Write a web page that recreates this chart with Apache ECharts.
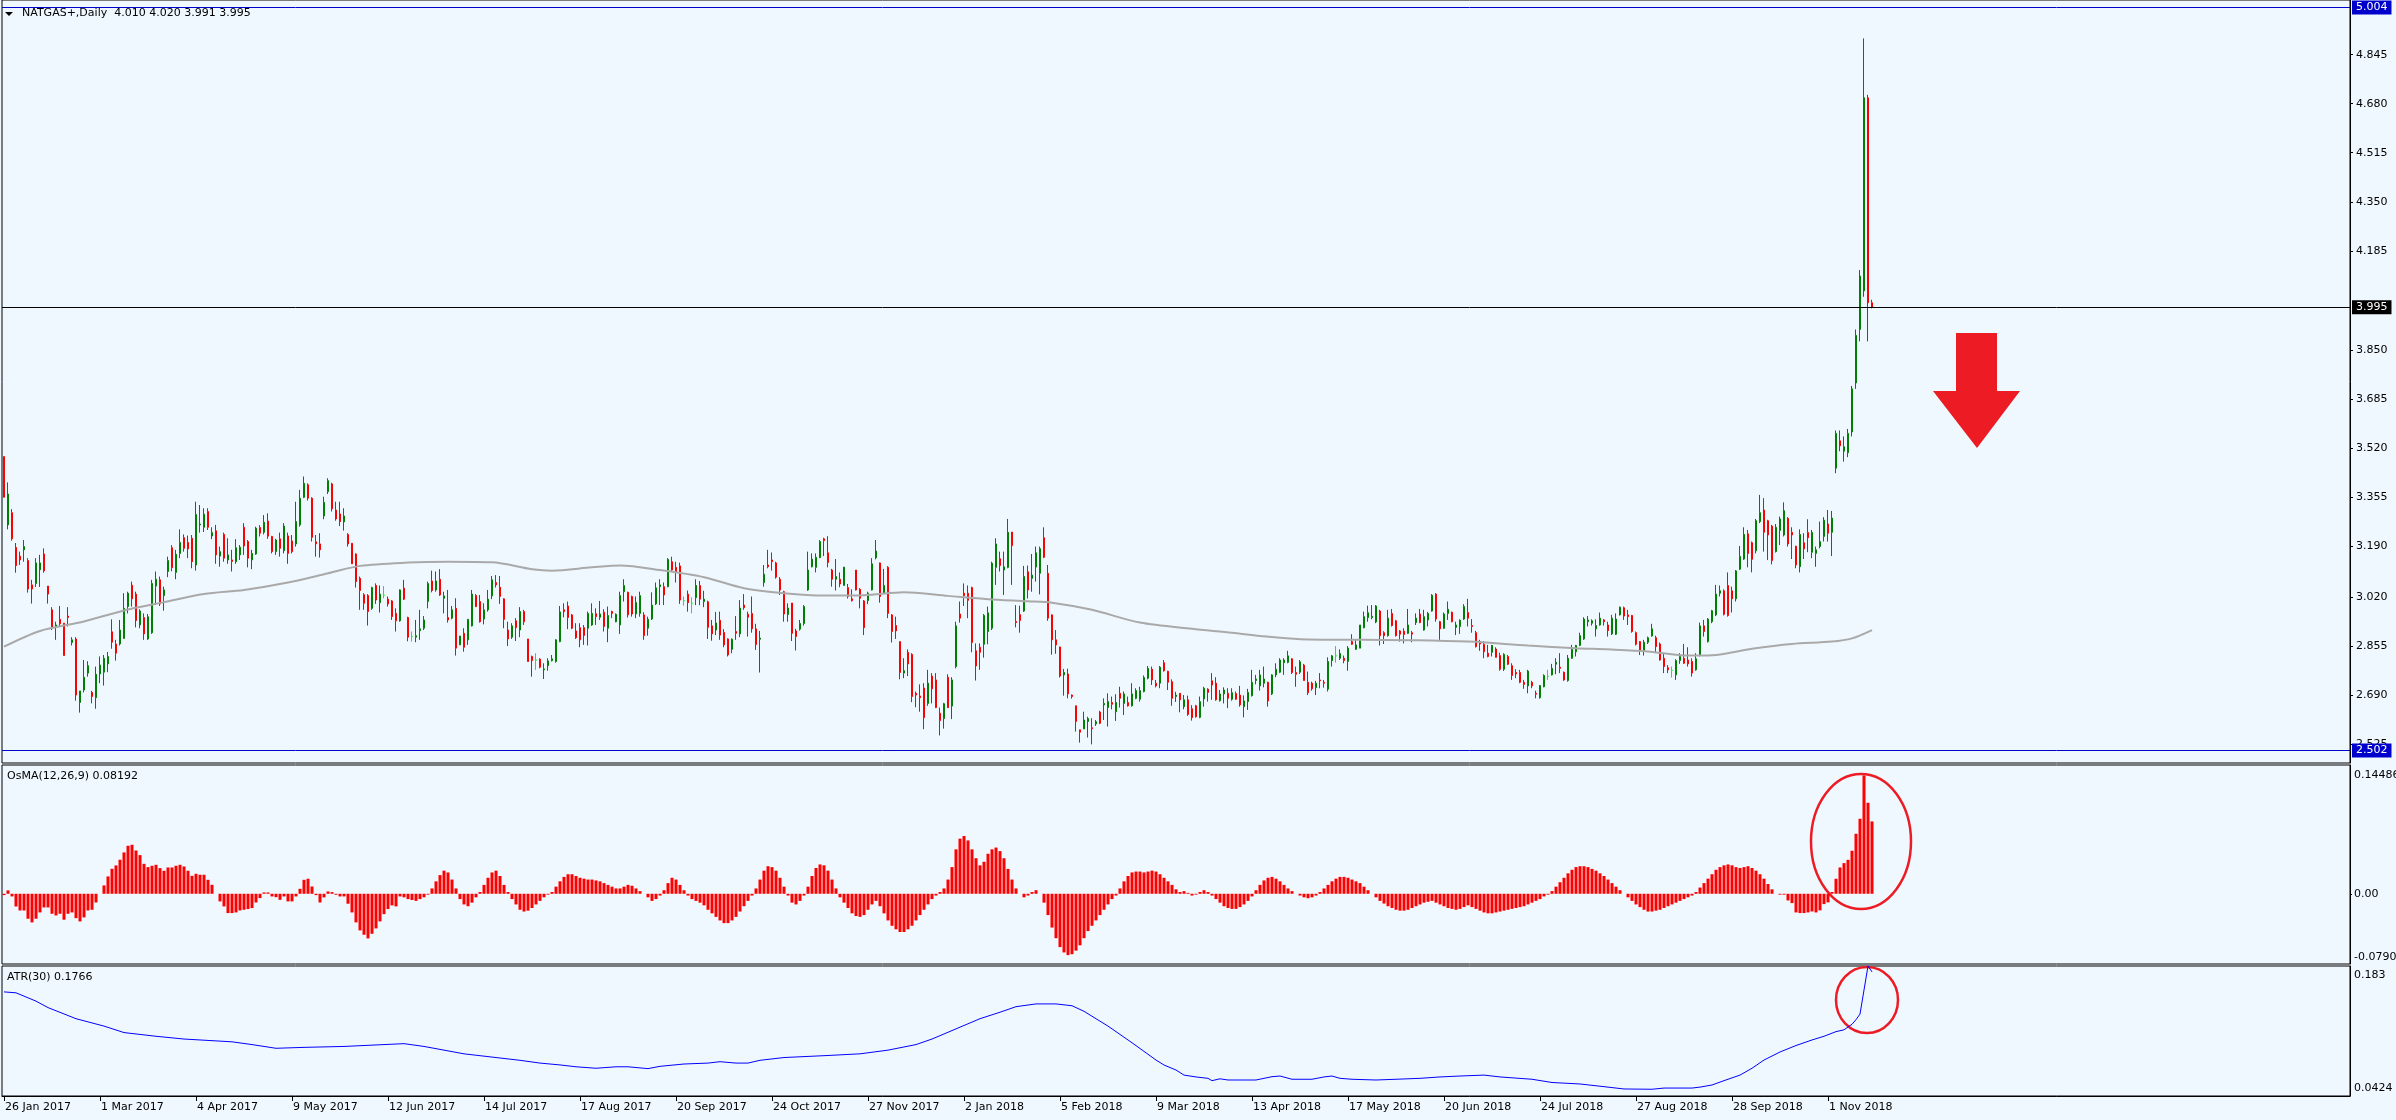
<!DOCTYPE html>
<html><head><meta charset="utf-8">
<script src="https://cdn.jsdelivr.net/npm/echarts@6/dist/echarts.min.js"></script>
<style>html,body{margin:0;padding:0;background:#F0F8FF;overflow:hidden}#c{width:2396px;height:1120px}</style>
</head><body><div id="c"></div>
<script>
const tickLabels = ['26 Jan 2017','1 Mar 2017','4 Apr 2017','9 May 2017','12 Jun 2017','14 Jul 2017','17 Aug 2017','20 Sep 2017','24 Oct 2017','27 Nov 2017','2 Jan 2018','5 Feb 2018','9 Mar 2018','13 Apr 2018','17 May 2018','20 Jun 2018','24 Jul 2018','27 Aug 2018','28 Sep 2018','1 Nov 2018'];
const priceTicks = [2.525,2.690,2.855,3.020,3.190,3.355,3.520,3.685,3.850,4.185,4.350,4.515,4.680,4.845];
const levelTop = 5.004, levelBottom = 2.502, lastPrice = 3.995;
const osmaRange = [-0.0790, 0.14486];
const atrRange = [0.0424, 0.183];

const opens = [
3.492,3.262,3.303,3.186,3.157,3.178,3.142,3.060,3.065,3.111,
3.164,3.056,2.976,2.917,2.944,2.931,2.955,2.866,2.878,2.664,
2.706,2.763,2.698,2.680,2.760,2.766,2.794,2.902,2.861,2.861,
2.880,2.987,3.059,3.029,2.925,2.950,2.878,2.899,3.056,3.077,
3.024,3.105,3.185,3.102,3.166,3.219,3.203,3.217,3.127,3.262,
3.254,3.307,3.225,3.242,3.157,3.230,3.144,3.144,3.138,3.161,
3.254,3.206,3.144,3.164,3.253,3.237,3.275,3.223,3.172,3.215,
3.175,3.225,3.208,3.198,3.262,3.355,3.397,3.352,3.205,3.198,
3.292,3.374,3.400,3.312,3.299,3.272,3.230,3.200,3.164,3.082,
3.027,3.024,2.981,3.058,3.000,3.025,3.012,3.006,2.964,2.939,
3.049,2.950,2.886,2.884,2.906,2.914,3.004,3.073,3.043,3.079,
3.015,2.950,2.948,2.981,2.858,2.897,2.875,2.922,3.024,3.004,
2.945,2.976,3.023,3.068,3.052,3.013,2.908,2.884,2.939,2.908,
2.970,2.878,2.819,2.807,2.810,2.774,2.788,2.805,2.802,2.869,
2.976,2.989,2.959,2.905,2.916,2.916,2.914,2.925,2.963,2.951,
2.968,2.914,2.970,2.936,2.925,3.037,3.035,3.021,2.962,2.964,
2.959,2.914,2.945,2.996,3.054,3.054,3.054,3.138,3.119,3.124,
3.007,3.029,2.998,3.017,3.058,3.004,3.003,2.922,2.908,2.941,
2.900,2.878,2.843,2.903,2.895,2.992,2.961,2.964,2.912,2.877,
3.068,3.127,3.144,3.134,3.079,3.037,2.960,2.999,2.905,2.911,
2.930,3.043,3.121,3.119,3.152,3.215,3.168,3.110,3.079,3.079,
3.058,3.051,3.013,3.110,3.045,3.006,3.007,3.043,3.151,3.134,
3.032,3.119,2.959,2.923,2.869,2.763,2.833,2.826,2.695,2.686,
2.713,2.661,2.753,2.740,2.628,2.610,2.749,2.652,2.785,2.962,
3.032,3.032,3.051,2.838,2.850,2.860,2.903,2.914,3.119,3.148,
3.110,3.119,3.238,2.937,2.960,2.972,3.104,3.082,3.120,3.099,
3.219,3.099,2.959,2.875,2.851,2.757,2.760,2.689,2.653,2.572,
2.575,2.600,2.579,2.592,2.632,2.656,2.647,2.664,2.633,2.695,
2.661,2.664,2.653,2.678,2.675,2.701,2.746,2.776,2.729,2.729,
2.798,2.769,2.734,2.684,2.695,2.650,2.673,2.643,2.653,2.614,
2.676,2.709,2.737,2.729,2.670,2.693,2.695,2.675,2.694,2.689,
2.650,2.667,2.687,2.738,2.720,2.729,2.732,2.693,2.757,2.766,
2.798,2.799,2.811,2.765,2.766,2.790,2.732,2.729,2.714,2.740,
2.732,2.709,2.805,2.821,2.813,2.813,2.802,2.869,2.843,2.847,
2.916,2.950,2.950,2.935,2.972,2.899,2.889,2.964,2.939,2.905,
2.904,2.897,2.899,2.933,2.962,2.908,2.942,2.972,3.029,2.936,
2.914,2.964,2.968,2.917,2.920,2.945,2.967,2.923,2.899,2.869,
2.860,2.830,2.833,2.844,2.822,2.776,2.819,2.788,2.765,2.765,
2.732,2.720,2.732,2.695,2.680,2.717,2.752,2.757,2.793,2.783,
2.766,2.738,2.813,2.835,2.856,2.878,2.936,2.931,2.912,2.925,
2.942,2.925,2.895,2.894,2.959,2.983,2.959,2.957,2.899,2.869,
2.839,2.867,2.888,2.882,2.861,2.813,2.781,2.772,2.757,2.805,
2.813,2.807,2.802,2.774,2.824,2.922,2.869,2.936,2.959,3.032,
3.040,3.058,3.040,3.013,3.113,3.147,3.232,3.202,3.175,3.273,
3.312,3.276,3.258,3.172,3.243,3.228,3.284,3.237,3.190,3.121,
3.202,3.236,3.170,3.166,3.189,3.223,3.265,3.237,3.453,3.545,
3.510,3.505,3.575,3.740,3.920,4.050,4.700,4.010];
const closes = [
3.355,3.366,3.215,3.125,3.144,3.189,3.046,3.046,3.134,3.134,
3.107,3.029,2.917,2.925,2.929,2.822,2.950,2.875,2.689,2.703,
2.749,2.788,2.684,2.759,2.790,2.813,2.819,2.867,2.830,2.908,
2.981,3.032,3.013,2.940,2.972,2.895,2.953,3.065,3.079,2.996,
3.043,3.142,3.118,3.163,3.203,3.183,3.181,3.138,3.297,3.265,
3.298,3.254,3.236,3.161,3.172,3.150,3.161,3.139,3.185,3.187,
3.191,3.150,3.166,3.251,3.234,3.271,3.224,3.172,3.211,3.183,
3.258,3.166,3.172,3.273,3.352,3.402,3.352,3.220,3.198,3.178,
3.338,3.411,3.316,3.282,3.273,3.292,3.198,3.131,3.071,3.041,
2.998,2.970,3.051,3.009,3.029,3.025,2.996,2.953,2.939,3.043,
3.012,2.884,2.886,2.889,2.912,2.942,3.065,3.041,3.073,3.026,
3.023,2.942,2.976,2.847,2.888,2.850,2.944,3.029,2.987,2.936,
2.976,3.012,3.077,3.060,3.021,2.944,2.878,2.922,2.916,2.970,
2.936,2.802,2.805,2.807,2.783,2.777,2.804,2.811,2.875,2.969,
2.970,2.950,2.914,2.882,2.875,2.890,2.964,2.964,2.953,2.962,
2.920,2.957,2.964,2.961,3.024,3.058,2.959,2.962,3.001,3.024,
2.889,2.944,2.992,3.050,3.060,3.026,3.146,3.110,3.102,3.009,
3.007,3.000,2.998,3.058,3.012,3.012,2.917,2.895,2.932,2.891,
2.858,2.824,2.877,2.897,2.982,2.983,2.951,2.912,2.859,2.881,
3.096,3.121,3.138,3.086,3.043,2.962,2.982,2.897,2.886,2.930,
2.987,3.110,3.147,3.153,3.206,3.209,3.135,3.079,3.088,3.063,
3.120,3.021,3.007,3.043,3.015,2.916,3.032,3.131,3.174,3.021,
3.058,2.964,2.903,2.905,2.765,2.771,2.794,2.684,2.689,2.680,
2.613,2.729,2.710,2.647,2.603,2.660,2.647,2.740,2.922,2.948,
3.024,3.008,2.866,2.787,2.833,2.957,2.966,3.133,3.198,3.125,
3.121,3.237,3.192,2.933,2.940,3.088,3.043,3.093,3.168,3.182,
3.153,2.948,2.875,2.858,2.753,2.765,2.693,2.684,2.600,2.564,
2.605,2.610,2.576,2.599,2.594,2.661,2.667,2.658,2.664,2.678,
2.693,2.653,2.693,2.704,2.704,2.748,2.779,2.740,2.720,2.783,
2.771,2.732,2.678,2.689,2.673,2.673,2.624,2.613,2.616,2.667,
2.712,2.698,2.723,2.673,2.693,2.706,2.678,2.697,2.675,2.656,
2.669,2.698,2.732,2.743,2.757,2.743,2.669,2.757,2.776,2.807,
2.807,2.821,2.765,2.759,2.801,2.738,2.697,2.710,2.729,2.737,
2.729,2.802,2.821,2.821,2.829,2.805,2.847,2.860,2.858,2.925,
2.953,2.966,2.954,2.989,2.889,2.889,2.948,2.923,2.889,2.894,
2.893,2.925,2.894,2.948,2.933,2.953,2.964,3.025,2.945,2.912,
2.962,2.978,2.936,2.925,2.941,2.987,2.948,2.920,2.852,2.861,
2.835,2.819,2.856,2.816,2.776,2.826,2.793,2.755,2.760,2.732,
2.725,2.770,2.720,2.692,2.721,2.755,2.752,2.779,2.799,2.779,
2.740,2.813,2.843,2.856,2.889,2.945,2.942,2.939,2.923,2.948,
2.936,2.906,2.948,2.945,2.985,2.955,2.953,2.903,2.860,2.839,
2.867,2.882,2.912,2.852,2.807,2.785,2.774,2.772,2.805,2.819,
2.796,2.794,2.763,2.811,2.922,2.903,2.945,2.973,3.029,3.040,
2.961,2.957,3.013,3.107,3.156,3.230,3.166,3.146,3.276,3.303,
3.237,3.228,3.142,3.254,3.282,3.310,3.198,3.228,3.127,3.230,
3.181,3.219,3.237,3.178,3.206,3.278,3.234,3.285,3.570,3.528,
3.525,3.570,3.720,3.900,4.100,4.700,4.010,3.995];
const lows = [
3.355,3.247,3.209,3.101,3.127,3.138,3.034,2.997,3.053,3.053,
3.101,2.997,2.908,2.875,2.920,2.822,2.920,2.856,2.670,2.630,
2.698,2.751,2.661,2.643,2.729,2.721,2.766,2.845,2.805,2.856,
2.878,2.964,2.987,2.917,2.914,2.875,2.875,2.895,2.992,2.989,
2.973,3.086,3.106,3.079,3.150,3.172,3.150,3.116,3.108,3.236,
3.238,3.245,3.214,3.131,3.121,3.138,3.131,3.105,3.131,3.144,
3.161,3.119,3.113,3.161,3.223,3.230,3.215,3.166,3.161,3.155,
3.166,3.131,3.166,3.189,3.256,3.352,3.344,3.206,3.155,3.152,
3.281,3.366,3.307,3.276,3.258,3.243,3.189,3.131,3.051,2.976,
2.976,2.923,2.976,2.996,2.967,3.015,2.987,2.942,2.903,2.936,
3.009,2.870,2.869,2.867,2.875,2.908,2.981,3.035,3.037,3.023,
2.964,2.933,2.944,2.822,2.858,2.835,2.858,2.920,2.985,2.933,
2.927,2.970,3.012,3.051,2.996,2.914,2.854,2.878,2.871,2.884,
2.925,2.802,2.751,2.774,2.779,2.743,2.771,2.802,2.798,2.867,
2.951,2.911,2.911,2.878,2.850,2.858,2.856,2.922,2.925,2.942,
2.903,2.867,2.948,2.934,2.895,3.004,2.950,2.953,2.948,2.953,
2.875,2.889,2.942,2.992,2.992,2.992,3.052,3.107,3.068,2.996,
2.990,2.970,2.964,2.992,2.992,2.985,2.878,2.872,2.891,2.875,
2.850,2.819,2.830,2.875,2.884,2.976,2.886,2.899,2.841,2.765,
3.054,3.116,3.108,3.081,3.026,2.936,2.936,2.871,2.839,2.906,
2.923,3.040,3.119,3.102,3.150,3.157,3.119,3.054,3.041,3.052,
3.058,3.014,3.004,3.041,2.981,2.891,2.995,3.041,3.146,3.000,
3.029,2.948,2.866,2.878,2.742,2.746,2.753,2.665,2.648,2.633,
2.574,2.653,2.661,2.645,2.553,2.576,2.645,2.608,2.779,2.933,
2.989,2.948,2.833,2.738,2.774,2.815,2.860,2.908,3.060,3.105,
3.026,3.116,3.060,2.917,2.899,2.969,3.014,3.037,3.071,3.028,
3.150,2.939,2.825,2.828,2.748,2.687,2.678,2.677,2.566,2.529,
2.575,2.546,2.523,2.585,2.591,2.605,2.583,2.641,2.602,2.647,
2.622,2.650,2.650,2.675,2.667,2.698,2.742,2.723,2.715,2.712,
2.768,2.706,2.653,2.666,2.631,2.641,2.619,2.603,2.613,2.611,
2.650,2.667,2.673,2.670,2.667,2.661,2.645,2.670,2.673,2.650,
2.614,2.639,2.684,2.725,2.704,2.715,2.650,2.689,2.749,2.763,
2.757,2.796,2.760,2.717,2.760,2.738,2.689,2.704,2.689,2.712,
2.714,2.701,2.785,2.798,2.807,2.796,2.771,2.858,2.841,2.847,
2.914,2.936,2.944,2.931,2.856,2.861,2.886,2.920,2.886,2.869,
2.863,2.895,2.867,2.925,2.931,2.906,2.920,2.970,2.936,2.875,
2.912,2.942,2.934,2.891,2.895,2.942,2.920,2.899,2.849,2.838,
2.813,2.816,2.819,2.816,2.771,2.770,2.790,2.740,2.746,2.729,
2.710,2.695,2.712,2.678,2.677,2.715,2.740,2.755,2.759,2.763,
2.737,2.734,2.811,2.819,2.854,2.875,2.920,2.923,2.886,2.923,
2.923,2.886,2.891,2.891,2.957,2.942,2.925,2.899,2.856,2.824,
2.822,2.861,2.886,2.833,2.805,2.763,2.763,2.748,2.740,2.794,
2.794,2.785,2.751,2.771,2.819,2.886,2.866,2.931,2.955,3.021,
2.957,2.953,2.967,3.004,3.110,3.144,3.119,3.102,3.166,3.268,
3.172,3.144,3.129,3.169,3.194,3.223,3.189,3.147,3.116,3.102,
3.147,3.170,3.150,3.121,3.183,3.206,3.206,3.157,3.436,3.510,
3.475,3.490,3.560,3.720,3.880,4.030,3.880,3.991];
const highs = [
3.492,3.405,3.315,3.201,3.172,3.211,3.150,3.077,3.150,3.161,
3.183,3.056,2.985,2.936,2.989,2.931,2.985,2.884,2.884,2.703,
2.807,2.803,2.703,2.785,2.819,2.824,2.834,2.944,2.875,2.942,
3.032,3.037,3.071,3.037,2.978,2.964,2.962,3.077,3.105,3.088,
3.054,3.155,3.194,3.178,3.247,3.230,3.226,3.228,3.340,3.329,
3.318,3.318,3.254,3.262,3.189,3.236,3.217,3.178,3.214,3.194,
3.268,3.211,3.178,3.256,3.261,3.295,3.301,3.225,3.215,3.236,
3.268,3.236,3.228,3.340,3.380,3.425,3.402,3.355,3.228,3.234,
3.357,3.419,3.404,3.340,3.340,3.318,3.234,3.200,3.166,3.088,
3.032,3.029,3.054,3.065,3.058,3.056,3.021,3.009,2.981,3.045,
3.077,2.953,2.903,2.942,2.976,2.955,3.071,3.108,3.105,3.113,
3.037,3.043,2.989,3.015,2.888,2.914,2.944,3.043,3.029,3.026,
2.998,3.043,3.090,3.093,3.090,3.015,2.936,2.931,2.948,2.985,
2.976,2.878,2.822,2.830,2.813,2.796,2.813,2.824,2.877,2.989,
2.998,3.004,2.962,2.931,2.931,2.925,2.970,2.998,2.981,3.006,
2.978,2.987,2.973,2.964,3.037,3.079,3.037,3.024,3.021,3.037,
2.968,2.953,3.035,3.068,3.079,3.068,3.150,3.155,3.138,3.135,
3.021,3.041,3.018,3.079,3.073,3.040,3.007,2.942,2.969,2.970,
2.911,2.880,2.880,2.955,3.009,3.029,2.970,3.021,2.929,2.905,
3.127,3.178,3.169,3.138,3.086,3.040,2.998,2.999,2.912,2.942,
2.992,3.172,3.166,3.166,3.211,3.219,3.224,3.114,3.147,3.102,
3.120,3.063,3.045,3.110,3.049,3.009,3.037,3.150,3.211,3.135,
3.114,3.123,2.962,2.953,2.869,2.813,2.843,2.830,2.701,2.725,
2.729,2.774,2.763,2.763,2.647,2.663,2.759,2.749,2.936,3.004,
3.065,3.058,3.054,2.863,2.863,2.962,2.987,3.138,3.217,3.172,
3.172,3.282,3.238,2.992,2.990,3.124,3.125,3.164,3.189,3.189,
3.254,3.127,2.961,2.908,2.852,2.777,2.778,2.691,2.653,2.572,
2.633,2.616,2.611,2.605,2.636,2.678,2.695,2.684,2.692,2.717,
2.701,2.684,2.729,2.712,2.717,2.755,2.787,2.785,2.740,2.787,
2.807,2.771,2.742,2.700,2.695,2.689,2.687,2.655,2.656,2.684,
2.717,2.712,2.763,2.749,2.706,2.715,2.712,2.712,2.701,2.720,
2.688,2.710,2.774,2.757,2.774,2.785,2.734,2.759,2.796,2.813,
2.813,2.838,2.813,2.785,2.807,2.794,2.768,2.734,2.737,2.763,
2.740,2.816,2.824,2.854,2.843,2.822,2.854,2.894,2.877,2.925,
2.970,2.990,2.992,2.992,2.976,2.904,2.976,2.979,2.942,2.908,
2.914,2.979,2.905,2.964,2.979,2.976,2.969,3.029,3.032,2.939,
2.967,3.004,2.970,2.936,2.944,2.995,3.013,2.945,2.905,2.875,
2.871,2.858,2.858,2.850,2.832,2.830,2.824,2.796,2.776,2.774,
2.740,2.774,2.737,2.704,2.723,2.759,2.774,2.794,2.813,2.830,
2.768,2.824,2.858,2.858,2.899,2.951,2.955,2.944,2.944,2.967,
2.945,2.936,2.959,2.964,2.987,2.987,2.976,2.959,2.903,2.871,
2.875,2.886,2.929,2.889,2.866,2.828,2.790,2.785,2.810,2.830,
2.861,2.850,2.813,2.830,2.933,2.942,2.948,2.976,3.060,3.058,
3.045,3.102,3.054,3.110,3.191,3.254,3.245,3.206,3.282,3.363,
3.352,3.279,3.262,3.265,3.290,3.338,3.288,3.254,3.192,3.247,
3.234,3.281,3.245,3.189,3.273,3.288,3.312,3.309,3.580,3.580,
3.560,3.585,3.730,3.920,4.120,4.900,4.710,4.020];

const maIdx = [0,9,20,30,40,50,60,71,81,89,101,111,122,132,137,147,154,164,175,185,195,205,215,225,236,246,256,262,272,284,297,307,314,324,340,353,366,381,393,401,411,421,427,437,447,457,462,467];
const maVal = [2.852,2.905,2.937,2.974,3.002,3.029,3.043,3.068,3.099,3.124,3.135,3.138,3.136,3.113,3.108,3.119,3.125,3.110,3.086,3.049,3.032,3.024,3.025,3.035,3.023,3.012,3.005,3.000,2.976,2.933,2.912,2.899,2.888,2.877,2.875,2.874,2.869,2.856,2.847,2.843,2.836,2.822,2.823,2.845,2.861,2.869,2.880,2.908];

const osma = [
-0.0015,0.0038,-0.003,-0.0143,-0.0188,-0.0188,-0.0281,-0.0322,-0.0281,-0.021,
-0.0154,-0.0154,-0.0225,-0.0244,-0.0225,-0.0292,-0.0225,-0.021,-0.0274,-0.0311,
-0.0266,-0.0188,-0.018,-0.0098,0,0.0094,0.0195,0.0281,0.0319,0.0383,
0.0465,0.054,0.0551,0.0487,0.0435,0.0337,0.03,0.0315,0.0326,0.0289,
0.0259,0.0296,0.0296,0.0315,0.0326,0.0307,0.0259,0.0202,0.0225,0.0214,
0.0214,0.0157,0.0101,0,-0.0086,-0.0142,-0.0217,-0.0217,-0.021,-0.0188,
-0.018,-0.0172,-0.0161,-0.0098,-0.0049,0.0015,0.0015,-0.003,-0.0038,-0.0068,
-0.003,-0.0086,-0.0086,-0.003,0.0056,0.0157,0.0169,0.0082,-0.0015,-0.0098,
-0.0041,0.0026,0.0019,-0.0011,-0.003,-0.003,-0.0112,-0.021,-0.0322,-0.0412,
-0.0461,-0.0502,-0.045,-0.039,-0.0311,-0.0229,-0.0172,-0.0131,-0.0142,-0.003,
-0.004,-0.006,-0.007,-0.008,-0.006,-0.004,-0.001,
0.006,0.014,0.021,0.026,0.024,0.016,0.006,
-0.006,-0.012,-0.014,-0.010,-0.004,0.002,
0.010,0.018,0.024,0.026,0.020,0.010,0.002,
-0.006,-0.012,-0.018,-0.020,-0.019,-0.016,-0.012,-0.008,-0.004,-0.001,0.002,
0.008,0.014,0.019,0.022,0.022,0.020,0.018,0.017,0.016,0.016,0.015,0.014,0.012,0.010,0.008,0.006,0.006,0.008,0.010,0.009,0.006,0.003,0.000,
-0.004,-0.008,-0.006,-0.002,0.004,0.012,0.018,0.016,
0.010,0.004,-0.002,-0.006,-0.008,-0.010,-0.013,-0.018,-0.022,-0.026,-0.030,-0.033,-0.033,-0.030,-0.026,-0.020,-0.014,-0.008,-0.002,
0.006,0.016,0.026,0.031,0.030,0.026,0.018,0.008,-0.002,-0.010,
-0.012,-0.008,-0.002,0.008,
0.020,0.029,0.033,0.032,0.026,0.016,0.006,
-0.004,-0.010,-0.016,-0.022,-0.025,-0.026,-0.024,-0.018,-0.012,-0.008,
-0.014,-0.022,-0.030,-0.036,-0.040,-0.043,-0.043,-0.040,-0.036,-0.030,-0.024,-0.018,-0.012,-0.006,-0.002,0.002,0.006,
0.016,0.030,0.050,0.062,0.065,0.060,0.050,0.040,0.032,0.036,0.045,0.050,0.052,0.048,0.040,0.028,0.016,
0.006,0.000,-0.004,-0.002,0.002,0.004,0.000,
-0.010,-0.024,-0.038,-0.050,-0.060,-0.066,-0.069,-0.068,-0.064,-0.058,-0.050,-0.042,-0.036,-0.030,-0.024,-0.018,-0.012,-0.006,-0.002,
0.006,0.014,0.020,0.024,0.025,0.025,0.024,0.025,0.026,0.025,0.022,0.018,0.014,0.010,0.005,
0.002,0.003,0.001,-0.002,-0.001,0.002,0.004,0.002,-0.002,
-0.006,-0.010,-0.014,-0.016,-0.017,-0.017,-0.015,-0.012,-0.008,-0.003,
0.004,0.010,0.015,0.018,0.019,0.017,0.014,0.010,0.006,0.003,0.000,-0.002,-0.004,-0.005,-0.004,-0.002,0.002,0.006,0.010,0.014,0.017,
0.019,0.019,0.018,0.016,0.014,0.012,0.008,0.004,0.000,-0.004,-0.008,-0.011,
-0.014,-0.016,-0.018,-0.019,-0.019,-0.018,-0.016,-0.014,-0.012,-0.010,-0.009,-0.008,-0.010,-0.012,-0.014,-0.016,-0.017,-0.018,-0.017,-0.015,-0.013,
-0.015,-0.017,-0.019,-0.021,-0.022,-0.022,-0.021,-0.020,-0.019,-0.018,-0.017,-0.016,-0.015,-0.014,-0.012,-0.010,-0.008,-0.006,-0.003,-0.001,
0.003,0.008,0.013,0.018,0.023,0.027,0.030,0.031,0.031,0.030,0.028,0.026,0.023,0.020,0.016,0.012,0.008,0.004,0.000,
-0.004,-0.008,-0.012,-0.015,-0.018,-0.020,-0.020,-0.019,-0.018,-0.016,-0.014,-0.012,-0.010,-0.008,-0.006,-0.004,-0.002,
0.002,0.007,0.012,0.017,0.022,0.027,0.030,0.032,0.033,0.032,0.030,0.029,0.030,0.031,0.029,0.026,0.022,0.017,0.011,0.005,0.000,
-0.001,-0.001,-0.0075,-0.0105,-0.021,-0.0217,-0.0217,-0.021,-0.0199,-0.021,-0.0187,-0.0116,-0.0097,0.002,
0.0169,0.0296,0.0345,0.0382,0.0484,0.0675,0.0844,0.1331,0.1024,0.0814];

const atrIdx = [0,3,8,11,18,25,30,38,45,57,62,68,75,85,95,100,105,110,115,121,129,134,139,143,148,153,156,161,164,170,176,179,183,186,189,195,205,214,221,228,232,238,244,249,253,258,263,267,270,276,282,288,290,293,295,298,301,302,304,306,313,317,319,322,327,330,332,334,337,343,348,354,359,364,370,374,382,387,394,400,405,412,415,422,424,427,430,434,437,440,444,448,452,455,458,460,462,463,464,465,466,467];
const atrVal = [0.155,0.154,0.145,0.138,0.126,0.118,0.111,0.107,0.104,0.101,0.098,0.094,0.095,0.096,0.098,0.099,0.096,0.092,0.088,0.085,0.081,0.078,0.076,0.074,0.0724,0.074,0.074,0.072,0.0745,0.077,0.078,0.0795,0.078,0.078,0.081,0.084,0.086,0.088,0.092,0.098,0.104,0.115,0.126,0.133,0.139,0.142,0.142,0.140,0.134,0.118,0.100,0.0813,0.0759,0.0705,0.065,0.063,0.0615,0.059,0.061,0.0597,0.0597,0.0633,0.064,0.0605,0.0605,0.063,0.064,0.0615,0.0605,0.0597,0.0605,0.0615,0.063,0.064,0.065,0.063,0.0605,0.057,0.0554,0.0525,0.050,0.0497,0.051,0.051,0.052,0.0543,0.059,0.065,0.0724,0.0813,0.090,0.097,0.103,0.107,0.112,0.114,0.120,0.125,0.131,0.157,0.183,0.1766];

const SLOTS = 587;
const cats = Array.from({length: SLOTS}, (_, i) => String(i));
const candleData = opens.map((o, i) => {
  const v = [o, closes[i], lows[i], highs[i]];
  if (o === closes[i]) return {value: v, itemStyle: {color:'#00FF00', color0:'#00FF00', borderColor:'#00FF00', borderColor0:'#00FF00'}};
  return v;
});
const maData = maIdx.map((x, k) => [x, maVal[k]]);
const atrData = atrIdx.map((x, k) => [x, atrVal[k]]);

const FONT = 'DejaVu Sans';
const labelShown = (idx) => idx % 24 === 0 && idx / 24 < tickLabels.length;
const gridBase = {left: 2, width: 2348, show: true, borderColor: '#000', borderWidth: 1, backgroundColor: 'transparent', containLabel: false, outerBoundsMode: 'none'};
const hiddenX = (gi) => ({type: 'category', gridIndex: gi, data: cats, boundaryGap: true, show: false});
const txt = (x, y, s) => ({type: 'text', x: x, y: y, style: {text: s, fill: '#000', font: '11px "DejaVu Sans"', verticalAlign: 'middle'}});

const chart = echarts.init(document.getElementById('c'), null, {renderer: 'canvas'});
chart.setOption({
  animation: false,
  backgroundColor: '#F0F8FF',
  textStyle: {fontFamily: FONT},
  grid: [
    Object.assign({top: 0, height: 763}, gridBase),
    Object.assign({top: 765, height: 199}, gridBase),
    Object.assign({top: 966, height: 130}, gridBase)
  ],
  xAxis: [
    hiddenX(0), hiddenX(1),
    {type: 'category', gridIndex: 2, data: cats, boundaryGap: true,
     axisLine: {show: true, lineStyle: {color: '#000', width: 1}},
     axisTick: {show: true, alignWithLabel: true, interval: labelShown, length: 5, lineStyle: {color: '#000'}},
     axisLabel: {show: true, interval: labelShown, align: 'left', padding: [0,0,0,1], margin: 6,
       formatter: (v, idx) => tickLabels[idx / 24] || '', color: '#000', fontSize: 11, fontFamily: FONT},
     splitLine: {show: false}}
  ],
  yAxis: [
    {type: 'value', gridIndex: 0, position: 'right', min: 2.4603, max: 5.0293,
     axisLine: {show: true, lineStyle: {color: '#000'}},
     axisTick: {show: true, length: 3, customValues: priceTicks, lineStyle: {color: '#000'}},
     axisLabel: {show: true, customValues: priceTicks, formatter: v => v.toFixed(3), color: '#000', fontSize: 11, margin: 6, fontFamily: FONT},
     splitLine: {show: false}},
    {type: 'value', gridIndex: 1, position: 'right', min: osmaRange[0], max: osmaRange[1],
     axisLine: {show: true, lineStyle: {color: '#000'}},
     axisTick: {show: true, length: 2, customValues: [0], lineStyle: {color: '#000'}},
     axisLabel: {show: true, customValues: [0], formatter: () => '0.00', color: '#000', fontSize: 11, margin: 4, fontFamily: FONT},
     splitLine: {show: false}},
    {type: 'value', gridIndex: 2, position: 'right', min: atrRange[0], max: atrRange[1],
     axisLine: {show: true, lineStyle: {color: '#000'}},
     axisTick: {show: false}, axisLabel: {show: false}, splitLine: {show: false}}
  ],
  series: [
    {type: 'candlestick', xAxisIndex: 0, yAxisIndex: 0, data: candleData, barWidth: 2,
     itemStyle: {color: '#008000', color0: '#FF0000', borderColor: '#008000', borderColor0: '#FF0000', borderWidth: 1},
     silent: true,
     markLine: {silent: true, symbol: ['none','none'], animation: false, precision: 3,
       lineStyle: {type: 'solid', width: 1},
       label: {show: true, position: 'end', distance: 2, color: '#fff', fontSize: 11, fontFamily: FONT, padding: [2,4,1,4],
         formatter: p => Number(p.value).toFixed(3)},
       emphasis: {disabled: true},
       data: [
         {yAxis: levelTop, lineStyle: {color: '#0000CD'}, label: {backgroundColor: '#0000CD'}},
         {yAxis: levelBottom, lineStyle: {color: '#0000CD'}, label: {backgroundColor: '#0000CD'}},
         {yAxis: lastPrice, lineStyle: {color: '#000'}, label: {backgroundColor: '#000'}}
       ]}},
    {type: 'line', xAxisIndex: 0, yAxisIndex: 0, data: maData, symbol: 'none', smooth: 0.3,
     lineStyle: {color: '#A9A9A9', width: 2}, silent: true, z: 3},
    {type: 'bar', xAxisIndex: 1, yAxisIndex: 1, data: osma, barWidth: 3,
     itemStyle: {color: '#FF0000'}, silent: true},
    {type: 'line', xAxisIndex: 2, yAxisIndex: 2, data: atrData, symbol: 'none',
     lineStyle: {color: '#0000FF', width: 1}, silent: true}
  ],
  graphic: [
    {type: 'polygon', shape: {points: [[5,12],[13,12],[9,16]]}, style: {fill: '#000'}},
    txt(22, 13.5, 'NATGAS+,Daily  4.010 4.020 3.991 3.995'),
    txt(7, 776, 'OsMA(12,26,9) 0.08192'),
    txt(7, 977, 'ATR(30) 0.1766'),
    txt(2354, 775, '0.14486'),
    txt(2354, 957, '-0.0790'),
    txt(2354, 975, '0.183'),
    txt(2354, 1088, '0.0424'),
    {type: 'polygon', shape: {points: [[1956,333],[1997,333],[1997,391],[2020,391],[1977,448],[1933,391],[1956,391]]}, style: {fill: '#ED1C24'}},
    {type: 'ellipse', shape: {cx: 1861, cy: 841.5, rx: 50, ry: 67.5}, style: {fill: 'none', stroke: '#ED1C24', lineWidth: 2.5}},
    {type: 'ellipse', shape: {cx: 1867, cy: 1000, rx: 31, ry: 33}, style: {fill: 'none', stroke: '#ED1C24', lineWidth: 2.5}}
  ]
});
</script>
</body></html>
